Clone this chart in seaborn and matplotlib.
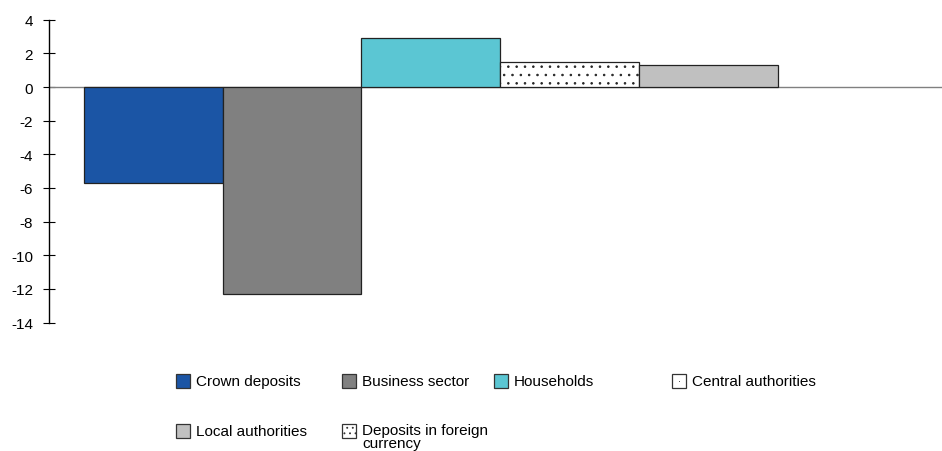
import numpy as np
import pandas as pd
import matplotlib
matplotlib.use("Agg")
import matplotlib.pyplot as plt
from matplotlib.patches import Rectangle
import seaborn as sns

# Change by sector (percentage points)
categories = ["Crown deposits", "Business sector", "Households",
              "Central authorities", "Local authorities",
              "Deposits in foreign currency"]
values = [-5.7, -12.3, 2.9, 1.5, 1.3, np.nan]
colors = ["#1b55a5", "#808080", "#5bc6d3", "#ffffff", "#c0c0c0", "#ffffff"]
bar_hatches = ["", "", "", "..", "", ".."]
legend_hatches = ["", "", "", "", "", "..."]
legend_labels = ["Crown deposits", "Business sector", "Households",
                 "Central authorities", "Local authorities",
                 "Deposits in foreign\ncurrency"]
yticks = list(range(-14, 5, 2))

sns.set_style("white")
plt.rcParams["font.family"] = ["Liberation Sans", "DejaVu Sans"]
plt.rcParams["hatch.color"] = "#666666"
plt.rcParams["hatch.linewidth"] = 0.6

df = pd.DataFrame({"category": categories, "value": values})

W, H = 942, 452
fig = plt.figure(figsize=(W / 100, H / 100), dpi=100)
ax_left, ax_top, ax_bottom = 49, 20.7, 323.6
ax = fig.add_axes([ax_left / W, (H - ax_bottom) / H,
                   (W - ax_left) / W, (ax_bottom - ax_top) / H])

sns.barplot(data=df, x="category", y="value", hue="category",
            order=categories, hue_order=categories,
            palette=dict(zip(categories, colors)), saturation=1,
            width=1.0, dodge=False, errorbar=None, legend=False,
            edgecolor="#222222", linewidth=0.9, ax=ax, zorder=3)

for patch in ax.patches:
    idx = int(round(patch.get_x() + patch.get_width() / 2))
    if 0 <= idx < len(bar_hatches) and bar_hatches[idx]:
        patch.set_hatch(bar_hatches[idx])

ax.axhline(0, color="#808080", lw=1.0, zorder=2)

# horizontal scale: one category per 138.7 px, first bar 35 px from the axis
unit = 138.7
xmin = -0.5 - 35 / unit
ax.set_xlim(xmin, xmin + (W - ax_left) / unit)
ax.set_ylim(-14, 4)
ax.set_yticks(yticks)
ax.set_yticklabels([str(t) for t in yticks])
ax.set_xticks([])
ax.set_xlabel("")
ax.set_ylabel("")

for side in ("top", "right", "bottom"):
    ax.spines[side].set_visible(False)
ax.spines["left"].set_color("black")
ax.spines["left"].set_linewidth(1.0)
ax.tick_params(axis="y", left=True, direction="inout", length=8, width=0.8,
               color="black", pad=7.5, labelsize=11, labelcolor="black")
ax.set_facecolor("white")

# legend laid out on a fixed grid below the plot
legend_pos = [(176, 382), (342, 382), (494, 382), (672, 382),
              (176, 432), (342, 432)]
for (lx, ly), lab, col, hat in zip(legend_pos, legend_labels, colors,
                                   legend_hatches):
    fig.add_artist(Rectangle((lx / W, 1 - (ly + 7) / H), 14 / W, 14 / H,
                             transform=fig.transFigure, facecolor=col,
                             edgecolor="#333333", linewidth=0.9,
                             hatch=hat if hat else None))
    if col == "#ffffff" and not hat:
        # single centre dot on the plain dotted swatch
        fig.add_artist(Rectangle(((lx + 6.5) / W, 1 - (ly + 1) / H),
                                 1.5 / W, 1.5 / H, transform=fig.transFigure,
                                 facecolor="#555555", edgecolor="none"))
    if "\n" in lab:
        fig.text((lx + 20) / W, 1 - (ly - 8) / H, lab, fontsize=11,
                 color="black", va="top", ha="left", linespacing=0.95)
    else:
        fig.text((lx + 20) / W, 1 - ly / H, lab, fontsize=11,
                 color="black", va="center", ha="left")

fig.savefig("out.png", dpi=100, facecolor="white")
